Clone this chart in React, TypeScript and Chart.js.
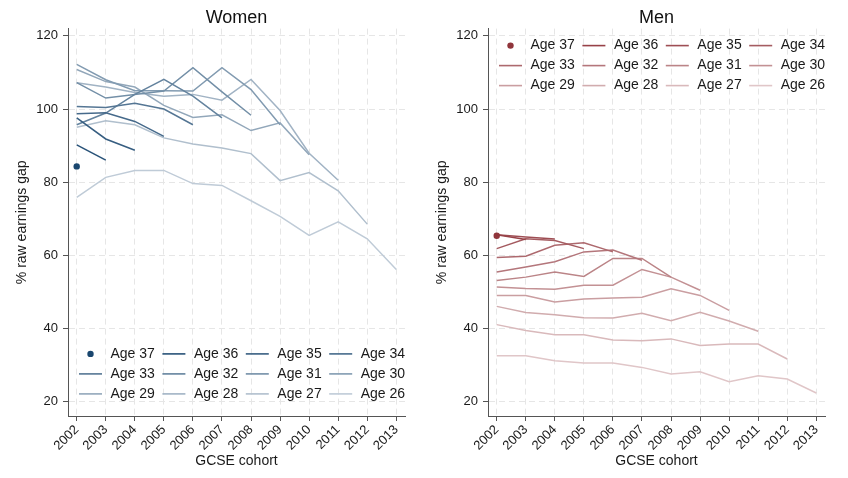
import React, { useEffect, useRef } from 'react';
import { Chart, registerables } from 'chart.js';

Chart.register(...registerables);

const FONT = "'Liberation Sans', Arial, Helvetica, sans-serif";

const cohorts = [2002, 2003, 2004, 2005, 2006, 2007, 2008, 2009, 2010, 2011, 2012, 2013];
const ages = [37, 36, 35, 34, 33, 32, 31, 30, 29, 28, 27, 26];
const yTicks = [20, 40, 60, 80, 100, 120];

// Women: % raw earnings gap by GCSE cohort (starting 2002), one array per age
const women37 = [84.3];
const women36 = [90.2, 86.0];
const women35 = [97.6, 91.8, 88.7];
const women34 = [98.7, 99.0, 96.6, 92.5];
const women33 = [100.7, 100.4, 101.6, 100.0, 95.7];
const women32 = [95.7, 98.9, 104.0, 108.1, 103.5, 97.6];
const women31 = [107.2, 103.0, 104.0, 104.9, 111.3, 104.7, 98.3];
const women30 = [112.2, 108.0, 105.0, 105.0, 104.9, 111.3, 105.3, 95.7];
const women29 = [110.8, 107.5, 106.0, 101.0, 97.7, 98.4, 94.1, 96.2, 87.5];
const women28 = [107.2, 106.0, 104.5, 103.5, 104.0, 102.4, 108.1, 99.6, 87.9, 80.5];
const women27 = [95.0, 96.8, 95.7, 92.1, 90.4, 89.3, 87.8, 80.4, 82.6, 77.6, 68.5];
const women26 = [75.8, 81.3, 83.2, 83.2, 79.6, 79.1, 74.9, 70.6, 65.4, 69.1, 64.5, 56.1];

// Men
const men37 = [65.3];
const men36 = [65.6, 64.3];
const men35 = [65.6, 65.0, 64.4];
const men34 = [61.8, 64.5, 64.0, 61.8];
const men33 = [59.4, 59.7, 62.7, 63.4, 60.9];
const men32 = [55.4, 56.8, 58.2, 60.9, 61.4, 58.6];
const men31 = [53.1, 54.0, 55.4, 54.2, 59.1, 59.1, 54.0];
const men30 = [51.3, 50.9, 50.7, 51.8, 51.8, 56.1, 54.0, 50.4];
const men29 = [49.0, 49.0, 47.2, 48.0, 48.3, 48.5, 50.8, 49.0, 44.9];
const men28 = [46.0, 44.3, 43.7, 42.9, 42.8, 44.1, 42.1, 44.4, 42.0, 39.2];
const men27 = [41.0, 39.4, 38.2, 38.2, 36.8, 36.6, 37.1, 35.3, 35.7, 35.7, 31.6];
const men26 = [32.5, 32.5, 31.1, 30.5, 30.5, 29.3, 27.5, 28.1, 25.4, 27.0, 26.1, 22.3];

const womenSeries = [women37, women36, women35, women34, women33, women32, women31, women30, women29, women28, women27, women26];
const menSeries = [men37, men36, men35, men34, men33, men32, men31, men30, men29, men28, men27, men26];

const NAVY = [26, 71, 111];
const MAROON = [144, 53, 59];

function shade(rgb: number[], age: number) {
  const a = age === 37 ? 1 : 0.28 + (age - 26) * 0.066;
  const c = rgb.map((v) => Math.round(255 - a * (255 - v)));
  return `rgb(${c[0]},${c[1]},${c[2]})`;
}

const legendPlugin = {
  id: 'panelLegend',
  afterDraw(chart: any, _args: any, opts: any) {
    const { ctx, chartArea } = chart;
    ctx.save();
    ctx.font = `14px ${FONT}`;
    ctx.textBaseline = 'middle';
    ctx.textAlign = 'left';
    ages.forEach((age, i) => {
      const r = Math.floor(i / 4);
      const c = i % 4;
      const colX = chartArea.left + c * 83.4;
      const y = chartArea.top + opts.top + r * 20;
      const color = shade(opts.rgb, age);
      if (i === 0) {
        ctx.fillStyle = color;
        ctx.beginPath();
        ctx.arc(colX + 22.5, y, 3.2, 0, Math.PI * 2);
        ctx.fill();
      } else {
        ctx.strokeStyle = color;
        ctx.lineWidth = 1.6;
        ctx.beginPath();
        ctx.moveTo(colX + 11, y);
        ctx.lineTo(colX + 34, y);
        ctx.stroke();
      }
      ctx.fillStyle = '#1a1a1a';
      ctx.fillText(`Age ${age}`, colX + 42.5, y);
    });
    ctx.restore();
  },
};

function makeConfig(title: string, series: number[][], rgb: number[], rightPad: number, legendTop: number): any {
  const datasets = series.map((arr, i) => {
    const age = ages[i];
    const color = shade(rgb, age);
    return {
      label: `Age ${age}`,
      data: arr.map((v, j) => ({ x: cohorts[j], y: v })),
      borderColor: color,
      backgroundColor: color,
      borderWidth: 1.5,
      showLine: arr.length > 1,
      pointRadius: arr.length > 1 ? 0 : 3.2,
      pointBorderWidth: 0,
      pointBackgroundColor: color,
      tension: 0,
      fill: false,
    };
  });
  return {
    type: 'line',
    data: { datasets },
    plugins: [legendPlugin],
    options: {
      responsive: false,
      maintainAspectRatio: false,
      animation: false,
      layout: { padding: { left: 0, right: rightPad, top: 0, bottom: 0 } },
      plugins: {
        legend: { display: false },
        tooltip: { enabled: false },
        title: {
          display: true,
          text: title,
          fullSize: false,
          color: '#111',
          font: { size: 18, family: FONT, weight: 'normal' },
          padding: { top: 7, bottom: 0 },
        },
        panelLegend: { top: legendTop, rgb },
      },
      scales: {
        x: {
          type: 'linear',
          min: 2001.7,
          max: 2013.3,
          afterBuildTicks: (s: any) => {
            s.ticks = cohorts.map((v) => ({ value: v }));
          },
          afterFit: (s: any) => {
            s.height = 62;
          },
          ticks: {
            autoSkip: false,
            minRotation: 45,
            maxRotation: 45,
            padding: 1,
            color: '#1a1a1a',
            font: { size: 13, family: FONT },
            callback: (v: any) => String(v),
          },
          grid: {
            color: '#e6e6e6',
            lineWidth: 1,
            tickLength: 5,
            tickColor: '#555',
            tickWidth: 1,
            tickBorderDash: [],
          },
          border: { display: true, color: '#555', width: 1, dash: [6, 4] },
          title: {
            display: true,
            text: 'GCSE cohort',
            color: '#1a1a1a',
            font: { size: 14, family: FONT },
            padding: { top: 0, bottom: 8.6 },
          },
        },
        y: {
          type: 'linear',
          min: 16,
          max: 122,
          afterBuildTicks: (s: any) => {
            s.ticks = yTicks.map((v) => ({ value: v }));
          },
          afterFit: (s: any) => {
            s.width = 68;
          },
          ticks: {
            padding: 5,
            color: '#1a1a1a',
            font: { size: 13, family: FONT },
            callback: (v: any) => String(v),
          },
          grid: {
            color: '#e6e6e6',
            lineWidth: 1,
            tickLength: 5,
            tickColor: '#555',
            tickWidth: 1,
            tickBorderDash: [],
          },
          border: { display: true, color: '#555', width: 1, dash: [6, 4] },
          title: {
            display: true,
            text: '% raw earnings gap',
            color: '#1a1a1a',
            font: { size: 14, family: FONT },
            padding: { top: 13.6, bottom: 0 },
          },
        },
      },
    },
  };
}

function Panel(props: { left: number; width: number; config: () => any }) {
  const ref = useRef<HTMLCanvasElement | null>(null);
  useEffect(() => {
    if (!ref.current) return;
    const chart = new Chart(ref.current, props.config());
    return () => chart.destroy();
  }, []);
  return (
    <canvas
      ref={ref}
      width={props.width}
      height={478}
      style={{ position: 'absolute', left: props.left, top: 0, width: props.width, height: 478 }}
    />
  );
}

export default function App() {
  return (
    <div style={{ position: 'absolute', left: 0, top: 0, width: 848, height: 478, background: '#ffffff', overflow: 'hidden' }}>
      <Panel left={0} width={420} config={() => makeConfig('Women', womenSeries, NAVY, 15, 325.3)} />
      <Panel left={420} width={428} config={() => makeConfig('Men', menSeries, MAROON, 23, 17)} />
    </div>
  );
}
